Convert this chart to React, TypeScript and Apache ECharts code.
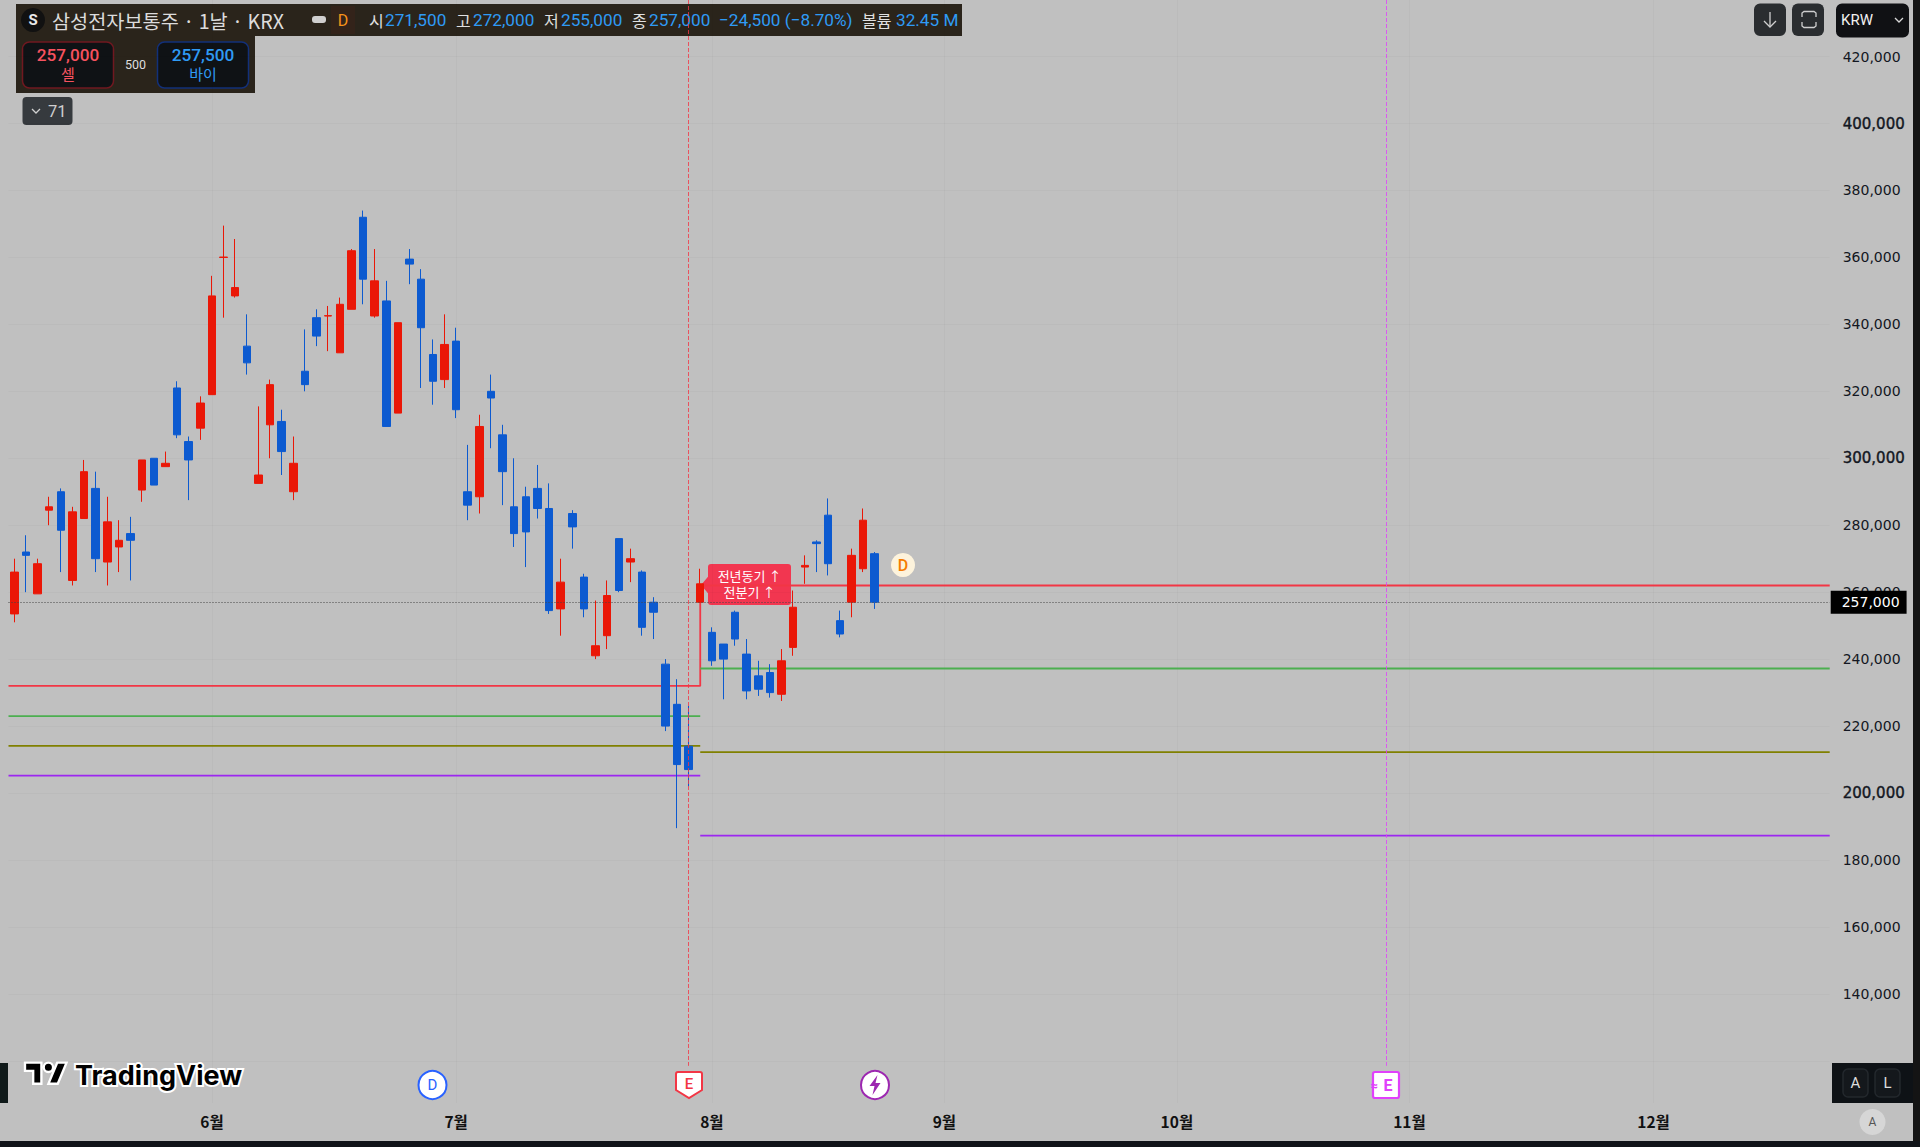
import React, { useEffect, useRef } from "react";
import * as echarts from "echarts";

const opens = [253500,272000,259500,284500,290000,263500,282000,291000,269000,273500,277500,290500,300000,297500,321000,305000,309000,319000,360000,348500,333500,292500,310000,311000,290000,326000,342000,342500,331500,344500,372000,342500,347000,313500,359500,353500,331000,323500,335000,290000,288500,320000,307000,285500,288500,291000,285000,255000,283500,264500,241000,247000,276000,269000,266000,257000,238500,226500,214000,257000,248000,244500,254000,241500,235000,236000,229500,243500,267500,275000,283000,251500,257000,267000,271500];
const closes = [266000,271000,268500,285500,278500,284000,296000,270000,281000,275500,275500,299500,292000,298500,307000,299500,316500,348500,360100,351000,328500,295000,322000,302000,298500,322000,336500,342600,346000,362000,353500,353000,309500,340500,358000,339000,323000,334000,314500,286000,309500,318000,296000,277500,278000,285000,254500,263000,279500,255000,244000,259000,260500,270000,249500,254000,220000,208500,207000,262500,239500,240000,246000,230500,231000,230000,239500,255500,268000,274500,268500,247500,271000,281500,257000];
const lows = [251000,260000,259500,280000,266000,262000,282000,266000,262000,266000,263500,287000,292000,297500,306000,287500,305500,319000,342000,348000,325000,292500,300000,295000,287500,320000,333500,332000,331500,344500,346000,342000,309500,313500,352000,321000,316000,321000,312000,281500,283500,303000,286000,273500,267500,282000,253500,247000,273000,252500,240000,243000,260000,263000,247000,246000,218500,189500,202000,257000,238000,228000,244000,228000,229000,228500,227500,241000,262500,266000,265000,246500,252500,266000,255000];
const highs = [270000,277000,270000,288500,291000,285500,299500,296000,288500,281500,282500,299500,300000,302000,323000,306500,318500,354500,369500,365500,343000,315500,323500,314500,306500,338500,344500,345500,348000,362500,374000,362500,353000,340500,362500,356500,335500,343000,339000,304000,313000,325000,310000,300000,291500,298000,292500,270000,284500,265500,257500,263500,276000,273000,266500,258500,240000,234000,226000,267000,249500,244500,254500,246000,239500,238500,243000,260500,271000,275500,288000,254500,273000,285000,272000];

const monthTicks = [17, 38, 60, 80, 100, 120, 141];
const monthLabels = ["6월", "7월", "8월", "9월", "10월", "11월", "12월"];
const priceGridTicks = [120000,140000,160000,180000,200000,220000,240000,260000,280000,300000,320000,340000,360000,380000,400000,420000];
const priceLabelTicks = [140000,160000,180000,200000,220000,240000,260000,280000,300000,320000,340000,360000,380000,400000,420000];
const emphasisedPrices = [200000, 300000, 400000];

const breakIndex = 59;
const lastIndex = 156.15;
const redLevels = [232000, 262000];
const greenLevels = [223000, 237200];
const oliveLevels = [214100, 212200];
const purpleLevels = [205200, 187300];
const lastPrice = 257000;
const earningsPast = 58;
const earningsNext = 118;

const KR = '"Noto Sans CJK KR", "Noto Sans", sans-serif';
const NUM = "Roboto, sans-serif";
const PRICE = '"DejaVu Sans", sans-serif';

echarts.graphic.registerShape("tvMark", echarts.graphic.extendPath("M14 22H7V11H0V4h14v18zM28 22h-8l7.5-18h8L28 22zM16 8a4 4 0 1 0 8 0a4 4 0 1 0 -8 0z", {}));
echarts.graphic.registerShape("shieldMark", echarts.graphic.extendPath("M0 2Q0 0 2 0H24Q26 0 26 2V18L13 26L0 18Z", {}));
echarts.graphic.registerShape("boltMark", echarts.graphic.extendPath("M8 0L0 11H5L3 20L11 8H6L8 0Z", {}));

const t = (text: string, x: number, y: number, fill: string, fontSize: number, extra: any = {}) => ({
  type: "text", x, y, silent: true,
  style: { text, fill, fontSize, fontFamily: extra.fontFamily || KR, fontWeight: extra.fontWeight || 400,
    align: extra.align || "left", verticalAlign: "middle", stroke: extra.stroke, lineWidth: extra.lineWidth },
});
const r = (x: number, y: number, width: number, height: number, fill: string, radius = 0, stroke?: string, lw = 1.5) => ({
  type: "rect", silent: true, shape: { x, y, width, height, r: radius },
  style: { fill, stroke, lineWidth: stroke ? lw : 0 },
});
const pl = (points: number[][], stroke: string, lineWidth = 1.5) => ({
  type: "polyline", silent: true, shape: { points }, style: { stroke, lineWidth, fill: "none" },
});

function overlay() {
  const blue = "#2f9bf5";
  return [
    // edges
    r(1913, 0, 7, 1147, "#141414"),
    r(0, 1141, 1920, 6, "#101318"),
    r(0, 1063, 8, 40, "#101a1a"),
    // header
    r(16, 4, 946, 32, "#2a241b"),
    r(16, 36, 239, 57, "#2a241b"),
    { type: "circle", silent: true, shape: { cx: 33, cy: 20, r: 12 }, style: { fill: "#111" } },
    t("S", 33, 20, "#e8e8e8", 15, { align: "center", fontWeight: 700, fontFamily: NUM }),
    t("삼성전자보통주 · 1날 · KRX", 52, 20, "#dcdcdc", 19.7),
    r(312, 16, 14, 7, "#cfcfcf", 3),
    r(331, 6, 24, 28, "#33231a"),
    t("D", 343, 20, "#f7931a", 16, { align: "center", fontFamily: NUM }),
    t("시", 369, 20, "#e0e0e0", 16),
    t("271,500", 385, 20, blue, 17.2, { fontFamily: NUM }),
    t("고", 456, 20, "#e0e0e0", 16),
    t("272,000", 473, 20, blue, 17.2, { fontFamily: NUM }),
    t("저", 544, 20, "#e0e0e0", 16),
    t("255,000", 561, 20, blue, 17.2, { fontFamily: NUM }),
    t("종", 632, 20, "#e0e0e0", 16),
    t("257,000", 649, 20, blue, 17.2, { fontFamily: NUM }),
    t("−24,500 (−8.70%)", 719, 20, blue, 17.2, { fontFamily: NUM }),
    t("볼륨", 862, 20, "#e0e0e0", 16),
    t("32.45 M", 896, 20, blue, 17.2, { fontFamily: NUM }),
    // sell / buy
    r(22.5, 42, 91, 46, "#0f1215", 7, "#701820"),
    t("257,000", 68, 55, "#f7525f", 17.2, { align: "center", fontFamily: NUM, fontWeight: 500 }),
    t("셀", 68, 73, "#f7525f", 15, { align: "center" }),
    t("500", 135.5, 64, "#dedede", 12.5, { align: "center", fontFamily: NUM }),
    r(157.5, 42, 91, 46, "#0f1215", 7, "#12307a"),
    t("257,500", 203, 55, "#2f9bf5", 17.2, { align: "center", fontFamily: NUM, fontWeight: 500 }),
    t("바이", 203, 73, "#2f9bf5", 15, { align: "center" }),
    // collapsed indicators
    r(22.5, 97, 50, 28, "#363a3e", 4),
    pl([[32, 109], [36, 113], [40, 109]], "#d0d0d0", 1.3),
    t("71", 48, 111, "#cfcfcf", 16.5, { fontFamily: NUM }),
    // right buttons
    r(1754, 3.5, 32, 32.5, "#2a2d30", 6),
    pl([[1770, 12], [1770, 27]], "#cfcfcf", 1.3),
    pl([[1764, 21], [1770, 27], [1776, 21]], "#cfcfcf", 1.3),
    r(1792, 3.5, 32, 32.5, "#2a2d30", 6),
    pl([[1802, 17], [1802, 13], [1804, 11.5], [1814, 11.5], [1816, 13], [1816, 17]], "#cfcfcf", 1.3),
    pl([[1802, 22], [1802, 26], [1804, 27.5], [1814, 27.5], [1816, 26], [1816, 22]], "#cfcfcf", 1.3),
    r(1836, 3.5, 73, 34, "#101114", 6),
    t("KRW", 1841, 20, "#f0f0f0", 15, { fontFamily: NUM }),
    pl([[1895, 18], [1899, 22], [1903, 18]], "#d8d8d8", 1.3),
    // earnings badge
    { type: "polygon", silent: true, shape: { points: [[701, 585], [712, 572], [712, 598]] }, style: { fill: "#f23650" } },
    r(708, 564, 83, 41, "#f23650", 3),
    t("전년동기 ↑", 749.5, 575, "#ffffff", 13, { align: "center" }),
    t("전분기 ↑", 749.5, 591, "#ffffff", 13, { align: "center" }),
    // dividend badge
    { type: "circle", silent: true, shape: { cx: 903, cy: 565, r: 12 }, style: { fill: "#fdf3dc" } },
    t("D", 903, 565, "#f57c00", 16, { align: "center", fontFamily: NUM, fontWeight: 500 }),
    // bottom marks
    { type: "circle", silent: true, shape: { cx: 432.5, cy: 1085, r: 14 }, style: { fill: "#fff", stroke: "#2962ff", lineWidth: 2 } },
    t("D", 432.5, 1085, "#2962ff", 15, { align: "center", fontFamily: NUM }),
    { type: "shieldMark", silent: true, x: 676, y: 1072, style: { fill: "#fff", stroke: "#f23645", lineWidth: 2 } },
    t("E", 689, 1084, "#f23645", 15, { align: "center", fontFamily: NUM, fontWeight: 500 }),
    { type: "circle", silent: true, shape: { cx: 875, cy: 1085, r: 14 }, style: { fill: "#fff", stroke: "#9c27b0", lineWidth: 2 } },
    { type: "boltMark", silent: true, x: 869.5, y: 1075, style: { fill: "#9c27b0" } },
    r(1373, 1072, 26, 26, "#fff", 2, "#e040fb", 2.2),
    t("E", 1388, 1085, "#e040fb", 16, { align: "center", fontFamily: NUM, fontWeight: 700 }),
    t("≈", 1374, 1085, "#e040fb", 13, { align: "center", fontFamily: NUM, fontWeight: 700 }),
    // TradingView logo
    { type: "tvMark", silent: true, x: 25, y: 1058, scaleX: 1.17, scaleY: 1.17, style: { fill: "#000", stroke: "#fff", lineWidth: 2 } },
    t("TradingView", 75, 1075, "#000", 27, { fontFamily: "Inter, sans-serif", fontWeight: 700, stroke: "#fff", lineWidth: 4 }),
    // A / L
    r(1832, 1063, 81, 40, "#0e1216"),
    r(1843, 1069, 25, 28, "#14181c", 5, "#23282d"),
    t("A", 1855.5, 1083, "#dddddd", 15, { align: "center", fontFamily: NUM }),
    r(1875, 1069, 25, 28, "#14181c", 5, "#23282d"),
    t("L", 1887.5, 1083, "#dddddd", 15, { align: "center", fontFamily: NUM }),
    { type: "circle", silent: true, shape: { cx: 1872.5, cy: 1122, r: 13 }, style: { fill: "#d6d6d6" } },
    t("A", 1872.5, 1122, "#555", 12, { align: "center", fontFamily: NUM }),
  ];
}

function levelLine(name: string, levels: number[], color: string, connect: boolean) {
  const data: any[] = [[-0.5, levels[0]], [breakIndex, levels[0]]];
  if (!connect) data.push([breakIndex, null]);
  data.push([breakIndex, levels[1]], [lastIndex, levels[1]]);
  return {
    name, type: "line", data, showSymbol: false, symbol: "none", z: 1, connectNulls: false,
    lineStyle: { color, width: 1.8 }, silent: true, clip: true,
  };
}

export default function App() {
  const ref = useRef<HTMLDivElement>(null);
  useEffect(() => {
    document.body.style.margin = "0";
    document.body.style.overflow = "hidden";
    const chart = echarts.init(ref.current!, undefined, { renderer: "svg" });
    const candles = opens.map((o, i) => [i, o, closes[i], lows[i], highs[i]]);
    chart.setOption({
      animation: false,
      backgroundColor: "#c0c0c0",
      grid: { left: 8.5, top: 0, width: 1821.2, height: 1103, containLabel: false },
      xAxis: {
        type: "value", min: -0.5, max: lastIndex,
        axisLine: { show: false },
        axisTick: { show: false, customValues: monthTicks },
        axisLabel: {
          customValues: monthTicks, margin: 10, color: "#111", fontSize: 15.5, fontWeight: 700, fontFamily: KR,
          formatter: (v: number) => monthLabels[monthTicks.indexOf(v)] ?? "",
        },
        splitLine: { show: true, lineStyle: { color: "rgba(0,0,0,0.025)", width: 1 } },
      },
      yAxis: {
        type: "value", position: "right", min: 107400, max: 436900,
        axisLine: { show: false },
        axisTick: { show: false, customValues: priceGridTicks },
        axisLabel: {
          customValues: priceLabelTicks, margin: 13, align: "left", color: "#131722", fontSize: 14,
          fontFamily: PRICE,
          formatter: (v: number) => {
            const s = v.toLocaleString("en-US");
            return emphasisedPrices.includes(v) ? `{b|${s}}` : s;
          },
          rich: { b: { fontSize: 15, fontFamily: PRICE, color: "#131722", textBorderColor: "#131722", textBorderWidth: 0.4 } },
        },
        splitLine: { show: true, lineStyle: { color: "rgba(0,0,0,0.025)", width: 1 } },
      },
      series: [
        levelLine("red", redLevels, "#f23645", true),
        levelLine("green", greenLevels, "#4caf50", false),
        levelLine("olive", oliveLevels, "#808000", false),
        levelLine("purple", purpleLevels, "#9c27f0", false),
        {
          name: "삼성전자보통주", type: "candlestick", z: 3, barWidth: 8, data: candles,
          itemStyle: { color: "#ea1707", color0: "#0c5ad0", borderColor: "#ea1707", borderColor0: "#0c5ad0", borderWidth: 1 },
          markLine: {
            silent: true, symbol: ["none", "none"], animation: false,
            data: [
              {
                yAxis: lastPrice,
                lineStyle: { color: "#444", type: [1, 2], width: 1 },
                label: {
                  show: true, position: "end", distance: 1, formatter: "257,000", color: "#fff", backgroundColor: "#000",
                  fontSize: 14, fontFamily: PRICE, padding: [5, 7, 4, 11],
                },
              },
              [
                { coord: [earningsPast, 436900], lineStyle: { color: "#f23645", type: "dashed", width: 1, opacity: 0.8 }, label: { show: false } },
                { coord: [earningsPast, 118500] },
              ],
              [
                { coord: [earningsNext, 436900], lineStyle: { color: "#e040fb", type: "dashed", width: 1, opacity: 0.8 }, label: { show: false } },
                { coord: [earningsNext, 118500] },
              ],
            ],
          },
        },
      ],
      graphic: { elements: overlay() },
    });
    return () => chart.dispose();
  }, []);
  return <div ref={ref} style={{ width: 1920, height: 1147 }} />;
}
